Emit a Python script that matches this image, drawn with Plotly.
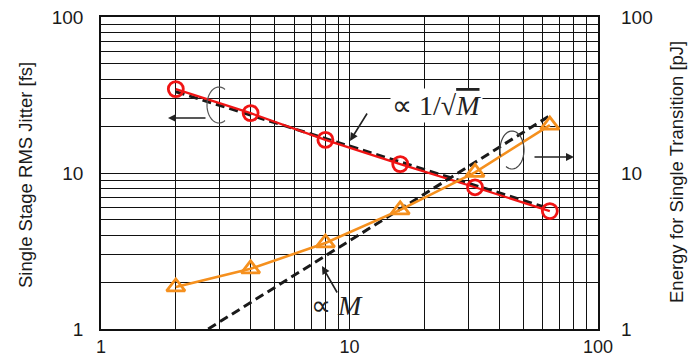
import plotly.graph_objects as go
import numpy as np

# ---- data ----
stages = [2, 4, 8, 16, 32, 64]
jitter_fs = [34.5, 24.2, 16.3, 11.4, 8.1, 5.7]          # left axis, red circles
energy_pj = [1.86, 2.43, 3.56, 5.8, 10.1, 20.3]         # right axis, orange triangles
fit_jitter_x = [2, 64]
fit_jitter_y = [33.2, 5.9]                               # ∝ 1/sqrt(M)
fit_energy_x = [2.7, 64]
fit_energy_y = [1.0, 23.3]                               # ∝ M
major_ticks = [1, 10, 100]
tick_text = ["1", "10", "100"]
minor_ticks = [d * m for m in (1, 10) for d in range(2, 10)]

RED = "#F01414"
ORANGE = "#F5901E"

# plot box in pixels (used only for decorative annotation placement)
L, R, T, B = 101, 598, 17, 329
W, H = 688, 358
def px(x):
    return (x - L) / (R - L)
def py(y):
    return (B - y) / (B - T)

fig = go.Figure()

fig.add_trace(go.Scatter(x=fit_jitter_x, y=fit_jitter_y, mode="lines",
                         line=dict(color="#1a1a1a", width=3, dash="9px,5px"),
                         showlegend=False))
fig.add_trace(go.Scatter(x=fit_energy_x, y=fit_energy_y, mode="lines", yaxis="y2",
                         line=dict(color="#1a1a1a", width=3, dash="9px,5px"),
                         showlegend=False))
fig.add_trace(go.Scatter(x=stages, y=jitter_fs, mode="lines+markers",
                         line=dict(color=RED, width=2.2),
                         marker=dict(symbol="circle-open", size=15, color=RED,
                                     line=dict(width=2.8, color=RED)),
                         showlegend=False))
fig.add_trace(go.Scatter(x=stages, y=energy_pj, mode="lines+markers", yaxis="y2",
                         line=dict(color=ORANGE, width=2.6),
                         marker=dict(symbol="triangle-up-open", size=16, color=ORANGE,
                                     line=dict(width=2.8, color=ORANGE)),
                         showlegend=False))

axis_font = dict(family="Liberation Sans, Arial, sans-serif", size=19, color="#1a1a1a")
xaxis_font = dict(family="Liberation Sans, Arial, sans-serif", size=18, color="#1a1a1a")

common = dict(type="log", range=[0, 2], tickvals=major_ticks, ticktext=tick_text,
              showgrid=True, gridcolor="#111111", gridwidth=1,
              minor=dict(tickvals=minor_ticks, showgrid=True, gridcolor="#111111",
                         gridwidth=1, ticks=""),
              ticks="", showline=True, linecolor="#111111", linewidth=1.5,
              zeroline=False, automargin=False)

fig.update_layout(
    width=W, height=H,
    margin=dict(l=L, r=W - R, t=T, b=H - B, autoexpand=False),
    paper_bgcolor="white", plot_bgcolor="white",
    xaxis=dict(**common, mirror=True, ticklabelstandoff=1, tickfont=xaxis_font),
    yaxis=dict(**common, mirror=True, ticklabelstandoff=12, tickfont=axis_font),
    yaxis2=dict(type="log", range=[0, 2], tickvals=major_ticks, ticktext=tick_text,
                overlaying="y", side="right", showgrid=False, ticks="",
                tickfont=axis_font, ticklabelstandoff=22, zeroline=False, automargin=False),
)

title_font = dict(family="Liberation Sans, Arial, sans-serif", size=18.5, color="#1a1a1a")
serif = dict(family="Liberation Serif, Times New Roman, serif", size=28, color="#222")
annotations = [
    dict(text="Single Stage RMS Jitter [fs]", x=px(25), y=py(175), xref="paper", yref="paper",
         textangle=-90, showarrow=False, font=title_font, xanchor="center", yanchor="middle"),
    dict(text="Energy for Single Transition [pJ]", x=px(676), y=py(172), xref="paper", yref="paper",
         textangle=-90, showarrow=False, font=title_font, xanchor="center", yanchor="middle"),
    # proportionality labels
    dict(text="∝ 1/√<span style='text-decoration:overline'><i>M</i></span>", x=px(436), y=py(105),
         xref="paper", yref="paper",
         showarrow=False, font=serif, bgcolor="white", xanchor="center", yanchor="middle"),
    dict(text="∝ <i>M</i>", x=px(337), y=py(305), xref="paper", yref="paper",
         showarrow=False, font=serif, xanchor="center", yanchor="middle"),
    # pointer arrows
    dict(x=px(350), y=py(141), ax=368, ay=112, xref="paper", yref="paper",
         showarrow=True, arrowhead=2, arrowsize=1, arrowwidth=1.6, arrowcolor="#222", text=""),
    dict(x=px(322), y=py(266), ax=338, ay=294, xref="paper", yref="paper",
         showarrow=True, arrowhead=2, arrowsize=1, arrowwidth=1.6, arrowcolor="#222", text=""),
    # axis-indicator arrows
    dict(x=px(168), y=py(118), ax=207, ay=118, xref="paper", yref="paper",
         showarrow=True, arrowhead=2, arrowsize=1, arrowwidth=1.6, arrowcolor="#222", text=""),
    dict(x=px(574), y=py(157), ax=533, ay=157, xref="paper", yref="paper",
         showarrow=True, arrowhead=2, arrowsize=1, arrowwidth=1.6, arrowcolor="#222", text=""),
]
# convert absolute pixel tails into offsets relative to heads
for a in annotations:
    if a.get("showarrow") and "ax" in a:
        hx = L + a["x"] * (R - L)
        hy = B - a["y"] * (B - T)
        a["ax"] = a["ax"] - hx
        a["ay"] = a["ay"] - hy
fig.update_layout(annotations=annotations)

# partial ellipses (axis indicators), drawn as SVG paths in paper coordinates
def arc_path(cx, cy, rx, ry, a0, a1, n=40):
    t = np.linspace(np.radians(a0), np.radians(a1), n)
    pts = [(px(cx + rx * np.cos(tt)), py(cy - ry * np.sin(tt))) for tt in t]
    return "M " + " L ".join(f"{x:.5f},{y:.5f}" for x, y in pts)

fig.add_shape(type="path", xref="paper", yref="paper",
              path=arc_path(219, 105, 12, 18, 60, 300), line=dict(color="#555", width=1.2))
fig.add_shape(type="path", xref="paper", yref="paper",
              path=arc_path(512, 150, 12, 19, -120, 200), line=dict(color="#444", width=1.2))

fig.write_html("out.html", config={"displayModeBar": False},
               post_script="document.body.style.margin='0';document.body.style.overflow='hidden';")
